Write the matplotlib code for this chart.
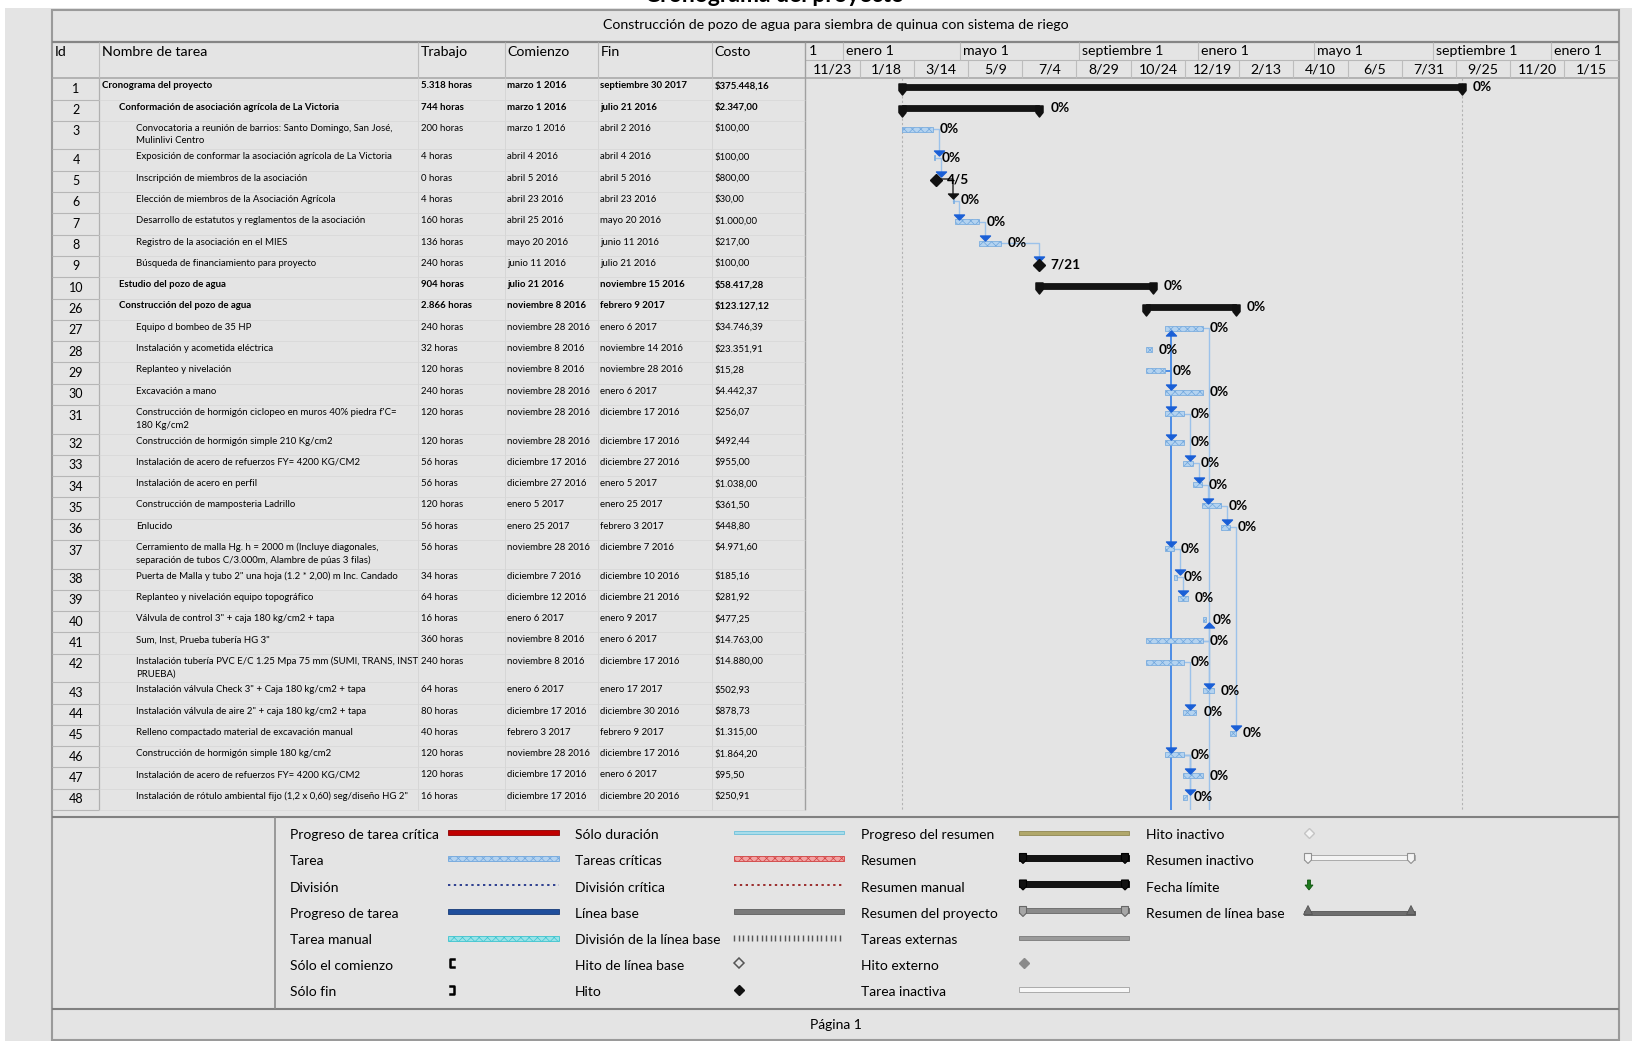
import datetime as dt

import matplotlib
matplotlib.use('Agg')
import matplotlib.pyplot as plt
import matplotlib.dates as mdates
import numpy as np
from matplotlib import font_manager
from matplotlib.patches import Rectangle, Polygon
from matplotlib.path import Path

# ---------------- datos ----------------
ids = [1, 2, 3, 4, 5, 6, 7, 8, 9, 10, 26, 27, 28, 29, 30, 31, 32, 33, 34, 35, 36,
       37, 38, 39, 40, 41, 42, 43, 44, 45, 46, 47, 48]
nombres = [
    "Cronograma del proyecto",
    "Conformación de asociación agrícola de La Victoria",
    "Convocatoria a reunión de barrios: Santo Domingo, San José,\nMulinlivi Centro",
    "Exposición de conformar la asociación agrícola de La Victoria",
    "Inscripción de miembros de la asociación",
    "Elección de miembros de la Asociación Agrícola",
    "Desarrollo de estatutos y reglamentos de la asociación",
    "Registro de la asociación en el MIES",
    "Búsqueda de financiamiento para proyecto",
    "Estudio del pozo de agua",
    "Construcción del pozo de agua",
    "Equipo d bombeo de 35 HP",
    "Instalación y acometida eléctrica",
    "Replanteo y nivelación",
    "Excavación a mano",
    "Construcción de hormigón ciclopeo en muros 40% piedra f'C=\n180 Kg/cm2",
    "Construcción de hormigón simple 210 Kg/cm2",
    "Instalación de acero de refuerzos FY= 4200 KG/CM2",
    "Instalación de acero en perfil",
    "Construcción de mamposteria Ladrillo",
    "Enlucido",
    "Cerramiento de malla Hg. h = 2000 m (Incluye diagonales,\nseparación de tubos C/3.000m, Alambre de púas 3 filas)",
    "Puerta de Malla y tubo 2\" una hoja (1.2 * 2,00) m Inc. Candado",
    "Replanteo y nivelación equipo topográfico",
    "Válvula de control 3\" + caja 180 kg/cm2 + tapa",
    "Sum, Inst, Prueba tubería HG 3\"",
    "Instalación tubería PVC E/C 1.25 Mpa 75 mm (SUMI, TRANS, INST\nPRUEBA)",
    "Instalación válvula Check 3\" + Caja 180 kg/cm2 + tapa",
    "Instalación válvula de aire 2\" + caja 180 kg/cm2 + tapa",
    "Relleno compactado material de excavación manual",
    "Construcción de hormigón simple 180 kg/cm2",
    "Instalación de acero de refuerzos FY= 4200 KG/CM2",
    "Instalación de rótulo ambiental fijo (1,2 x 0,60) seg/diseño HG 2\"",
]
niveles = [0, 1, 2, 2, 2, 2, 2, 2, 2, 1, 1] + [2] * 22
trabajo = ["5.318 horas", "744 horas", "200 horas", "4 horas", "0 horas", "4 horas",
           "160 horas", "136 horas", "240 horas", "904 horas", "2.866 horas",
           "240 horas", "32 horas", "120 horas", "240 horas", "120 horas", "120 horas",
           "56 horas", "56 horas", "120 horas", "56 horas", "56 horas", "34 horas",
           "64 horas", "16 horas", "360 horas", "240 horas", "64 horas", "80 horas",
           "40 horas", "120 horas", "120 horas", "16 horas"]
comienzo = ["marzo 1 2016", "marzo 1 2016", "marzo 1 2016", "abril 4 2016", "abril 5 2016",
            "abril 23 2016", "abril 25 2016", "mayo 20 2016", "junio 11 2016",
            "julio 21 2016", "noviembre 8 2016", "noviembre 28 2016", "noviembre 8 2016",
            "noviembre 8 2016", "noviembre 28 2016", "noviembre 28 2016",
            "noviembre 28 2016", "diciembre 17 2016", "diciembre 27 2016", "enero 5 2017",
            "enero 25 2017", "noviembre 28 2016", "diciembre 7 2016", "diciembre 12 2016",
            "enero 6 2017", "noviembre 8 2016", "noviembre 8 2016", "enero 6 2017",
            "diciembre 17 2016", "febrero 3 2017", "noviembre 28 2016",
            "diciembre 17 2016", "diciembre 17 2016"]
fin = ["septiembre 30 2017", "julio 21 2016", "abril 2 2016", "abril 4 2016", "abril 5 2016",
       "abril 23 2016", "mayo 20 2016", "junio 11 2016", "julio 21 2016",
       "noviembre 15 2016", "febrero 9 2017", "enero 6 2017", "noviembre 14 2016",
       "noviembre 28 2016", "enero 6 2017", "diciembre 17 2016", "diciembre 17 2016",
       "diciembre 27 2016", "enero 5 2017", "enero 25 2017", "febrero 3 2017",
       "diciembre 7 2016", "diciembre 10 2016", "diciembre 21 2016", "enero 9 2017",
       "enero 6 2017", "diciembre 17 2016", "enero 17 2017", "diciembre 30 2016",
       "febrero 9 2017", "diciembre 17 2016", "enero 6 2017", "diciembre 20 2016"]
costo = ["$375.448,16", "$2.347,00", "$100,00", "$100,00", "$800,00", "$30,00",
         "$1.000,00", "$217,00", "$100,00", "$58.417,28", "$123.127,12", "$34.746,39",
         "$23.351,91", "$15,28", "$4.442,37", "$256,07", "$492,44", "$955,00",
         "$1.038,00", "$361,50", "$448,80", "$4.971,60", "$185,16", "$281,92",
         "$477,25", "$14.763,00", "$14.880,00", "$502,93", "$878,73", "$1.315,00",
         "$1.864,20", "$95,50", "$250,91"]
tipos = ["resumen", "resumen", "tarea", "tarea", "hito", "tarea", "tarea", "tarea", "hito",
         "resumen", "resumen"] + ["tarea"] * 22
avance = ["0%"] * 33

# vinculos (predecesora, sucesora)
vinculos = [(3, 4), (4, 5), (5, 6), (6, 7), (7, 8), (8, 9),
            (29, 27), (29, 30), (29, 31), (29, 32), (29, 37), (29, 46),
            (31, 33), (33, 34), (34, 35), (35, 36), (36, 45), (37, 38), (38, 39),
            (41, 40), (41, 43), (42, 44), (46, 47), (46, 48)]
# vinculos que siguen hacia tareas fuera de la pagina
vinculos_fuera = [29, 27, 46]

escala_meses = ["2015-09-01", "2016-01-01", "2016-05-01", "2016-09-01", "2017-01-01",
                "2017-05-01", "2017-09-01", "2018-01-01"]
etiquetas_meses = ["1", "enero 1", "mayo 1", "septiembre 1", "enero 1", "mayo 1",
                   "septiembre 1", "enero 1"]
escala_semanas = ["2015-11-23", "2016-01-18", "2016-03-14", "2016-05-09", "2016-07-04",
                  "2016-08-29", "2016-10-24", "2016-12-19", "2017-02-13", "2017-04-10",
                  "2017-06-05", "2017-07-31", "2017-09-25", "2017-11-20", "2018-01-15"]

leyenda = [
    ["Progreso de tarea crítica", "Tarea", "División", "Progreso de tarea", "Tarea manual",
     "Sólo el comienzo", "Sólo fin"],
    ["Sólo duración", "Tareas críticas", "División crítica", "Línea base",
     "División de la línea base", "Hito de línea base", "Hito"],
    ["Progreso del resumen", "Resumen", "Resumen manual", "Resumen del proyecto",
     "Tareas externas", "Hito externo", "Tarea inactiva"],
    ["Hito inactivo", "Resumen inactivo", "Fecha límite", "Resumen de línea base"],
]

MESES = {'enero': 1, 'febrero': 2, 'marzo': 3, 'abril': 4, 'mayo': 5, 'junio': 6,
         'julio': 7, 'agosto': 8, 'septiembre': 9, 'octubre': 10, 'noviembre': 11,
         'diciembre': 12}


def fecha(texto):
    mes, dia, anio = texto.split()
    return dt.date(int(anio), MESES[mes], int(dia))


# ---------------- estilo ----------------
disponibles = {f.name for f in font_manager.fontManager.ttflist}
FUENTE = next(f for f in ['Lato', 'Open Sans', 'DejaVu Sans'] if f in disponibles)
plt.rcParams['font.family'] = [FUENTE, 'DejaVu Sans']
plt.rcParams['hatch.linewidth'] = 0.5

W, H = 1649, 1041
X_COL = [52.3, 99.4, 418.4, 504.7, 597.8, 712.3, 805.4]
X_FIN = 1619.5
Y_CAJA, Y_TIT, Y_NIVEL, Y_CAB = 10, 42, 60, 78.3
Y_CUERPO, Y_LEY, Y_PIE, Y_BASE = 810, 816.7, 1009, 1040
PX_DIA = 0.9682
FONDO = '#e4e4e4'
LINEA = '#9a9a9a'
T_TABLA = 6.95
T_CAB = 10.2
T_LEY = 10.0

fig = plt.figure(figsize=(W / 100, H / 100), dpi=100, facecolor='white')
pg = fig.add_axes([0, 0, 1, 1])
pg.set_xlim(0, W)
pg.set_ylim(H, 0)
pg.axis('off')

pg.add_patch(Rectangle((5, 8), 1627, H - 8, fc=FONDO, ec='none', zorder=0))
# titulo de la pagina, cortado por el borde superior como en la impresion
pg.text(645, 2.5, "Cronograma del proyecto", fontsize=16.5, fontweight='bold',
        ha='left', va='baseline', color='black')

# marco y lineas
pg.add_patch(Rectangle((X_COL[0], Y_CAJA), X_FIN - X_COL[0], Y_BASE - Y_CAJA,
                       fill=False, ec=LINEA, lw=1.5))
pg.hlines([Y_TIT], X_COL[0], X_FIN, colors='#858585', lw=1.6)
pg.hlines([Y_CAB], X_COL[0], X_FIN, colors='#a5a5a5', lw=1.1)
pg.hlines([Y_NIVEL], X_COL[-1], X_FIN, colors='#b8b8b8', lw=0.8)
pg.hlines([Y_LEY, Y_PIE], X_COL[0], X_FIN, colors='#808080', lw=1.5)
pg.vlines([274.7], Y_LEY, Y_PIE, colors='#8c8c8c', lw=1.2)
pg.vlines(X_COL[1:-1], Y_TIT, Y_CAB, colors='#bdbdbd', lw=0.8)
pg.vlines(X_COL[2:-1], Y_CAB, Y_CUERPO, colors='#d4d4d4', lw=0.6)
pg.vlines([X_COL[1]], Y_CAB, Y_CUERPO, colors='#b0b0b0', lw=0.9)
pg.vlines([X_COL[-1]], Y_TIT, Y_CUERPO, colors='#a0a0a0', lw=1.0)

pg.text((X_COL[0] + X_FIN) / 2, 25,
        "Construcción de pozo de agua para siembra de quinua con sistema de riego",
        fontsize=T_CAB, ha='center', va='center')
cabeceras = ["Id", "Nombre de tarea", "Trabajo", "Comienzo", "Fin", "Costo"]
for xc, cab in zip(X_COL[:-1], cabeceras):
    pg.text(xc + 2.5, 52, cab, fontsize=T_CAB, ha='left', va='center')
pg.text(836, 1025, "Página 1", fontsize=T_LEY, ha='center', va='center')

# filas de la tabla
altos = [28.5 if '\n' in n else 21.3 for n in nombres]
topes = np.concatenate([[Y_CAB], Y_CAB + np.cumsum(altos)])
for k in range(len(ids)):
    t = topes[k]
    pg.hlines([topes[k + 1]], X_COL[0], X_COL[1], colors='#b6b6b6', lw=0.8)
    pg.hlines([topes[k + 1]], X_COL[1], X_COL[-1], colors='#d6d6d6', lw=0.5)
    peso = 'bold' if tipos[k] == 'resumen' else 'normal'
    pg.text(76, t + 10.5, str(ids[k]), fontsize=9, ha='center', va='center')
    for j, linea in enumerate(nombres[k].split('\n')):
        pg.text(102 + 17 * niveles[k], t + 7.5 + 12.5 * j, linea, fontsize=T_TABLA,
                fontweight=peso, ha='left', va='center')
    for xc, val in zip(X_COL[2:6], [trabajo[k], comienzo[k], fin[k], costo[k]]):
        pg.text(xc + 2.5, t + 7.5, val, fontsize=T_TABLA, fontweight=peso,
                ha='left', va='center')

# ---------------- diagrama de gantt ----------------
ax = fig.add_axes([X_COL[-1] / W, 1 - Y_CUERPO / H, (X_FIN - X_COL[-1]) / W,
                   (Y_CUERPO - Y_TIT) / H])
ax.set_ylim(Y_CUERPO, Y_TIT)
d0 = mdates.date2num(dt.date.fromisoformat(escala_semanas[0]))
ax.set_xlim(d0, d0 + (X_FIN - X_COL[-1]) / PX_DIA)
ax.axis('off')
ax.patch.set_visible(False)
x_izq, x_der = ax.get_xlim()


def px(n):
    return n / PX_DIA


# escala de tiempo
for d, lab in zip(escala_meses, etiquetas_meses):
    x = mdates.date2num(dt.date.fromisoformat(d))
    if x > x_izq:
        ax.vlines([x], Y_TIT, Y_NIVEL, colors='#bdbdbd', lw=0.8)
    ax.text(max(x, x_izq) + px(3), 51, lab, fontsize=T_CAB, ha='left', va='center',
            clip_on=True)
xs_sem = [mdates.date2num(dt.date.fromisoformat(d)) for d in escala_semanas]
paso = xs_sem[1] - xs_sem[0]
ax.vlines(xs_sem[1:] + [xs_sem[-1] + paso], Y_NIVEL, Y_CAB, colors='#bdbdbd', lw=0.8)
for d, x in zip(escala_semanas, xs_sem):
    f = dt.date.fromisoformat(d)
    ax.text(x + paso / 2, 69.5, f"{f.month}/{f.day}", fontsize=T_CAB, ha='center',
            va='center')

inicio = [mdates.date2num(fecha(c)) + 8 / 24 for c in comienzo]
final = [mdates.date2num(fecha(c)) + 17 / 24 for c in fin]
y_barra = [t + 8.5 for t in topes[:-1]]

ax.vlines([inicio[0], final[0]], Y_CAB, Y_CUERPO, colors='#b2b2b2', lw=0.8,
          linestyles=(0, (2, 2)))

tapa = Path([(-0.32, 0.5), (0.32, 0.5), (0.32, -0.1), (0, -0.5), (-0.32, -0.1), (-0.32, 0.5)],
            [Path.MOVETO] + [Path.LINETO] * 4 + [Path.CLOSEPOLY])
flecha_abajo = Path([(-1, 0.5), (1, 0.5), (0, -0.5), (-1, 0.5)],
                    [Path.MOVETO, Path.LINETO, Path.LINETO, Path.CLOSEPOLY])
flecha_arriba = Path([(-1, -0.5), (1, -0.5), (0, 0.5), (-1, -0.5)],
                     [Path.MOVETO, Path.LINETO, Path.LINETO, Path.CLOSEPOLY])


def punto_inicio(k):
    return inicio[k] if tipos[k] != 'hito' else final[k]


# vinculos
n_suc = {p: sum(1 for a, _ in vinculos if a == p) for p, _ in vinculos}
for p, s in vinculos:
    kp, ks = ids.index(p), ids.index(s)
    xe, yp = final[kp], y_barra[kp]
    xs, ys = punto_inicio(ks), y_barra[ks]
    lx = max(xs, xe + px(6))
    if tipos[kp] == 'hito':
        col, ancho, punta = '#333333', 1.1, '#111111'
    elif n_suc[p] > 2:
        col, ancho, punta = '#4f8ee6', 1.4, '#1a5fd6'
    else:
        col, ancho, punta = '#9cc2ea', 1.0, '#1a5fd6'
    if ys > yp:
        ax.plot([xe, lx, lx], [yp, yp, ys - 7], color=col, lw=ancho, zorder=2)
        ax.plot(lx, ys - 5, marker=flecha_abajo, ms=7.2, color=punta, ls='none', zorder=4)
    else:
        ax.plot([xe, lx, lx], [yp, yp, ys + 7], color=col, lw=ancho, zorder=2)
        ax.plot(lx, ys + 5, marker=flecha_arriba, ms=7.2, color=punta, ls='none', zorder=4)
for p in vinculos_fuera:
    kp = ids.index(p)
    xe, yp = final[kp], y_barra[kp]
    fuerte = n_suc.get(p, 0) > 2
    ax.plot([xe, xe + px(6), xe + px(6)], [yp, yp, Y_CUERPO],
            color='#4f8ee6' if fuerte else '#9cc2ea', lw=1.4 if fuerte else 1.0, zorder=2)

# barras
for k in range(len(ids)):
    yb = y_barra[k]
    if tipos[k] == 'resumen':
        ax.barh(yb, final[k] - inicio[k], left=inicio[k], height=6, color='#141414',
                edgecolor='#000000', lw=0.5, zorder=3)
        ax.plot([inicio[k], final[k]], [yb + 2.5, yb + 2.5], marker=tapa, ms=8,
                color='#111111', ls='none', zorder=4)
        ax.text(final[k] + px(11), yb, avance[k], fontsize=9.8, fontweight='bold',
                ha='left', va='center', zorder=5)
    elif tipos[k] == 'hito':
        ax.plot(final[k], yb + 1, marker='D', ms=6.5, color='#111111', zorder=5)
        f = fecha(fin[k])
        ax.text(final[k] + px(11), yb, f"{f.month}/{f.day}", fontsize=9.8,
                fontweight='bold', ha='left', va='center', zorder=5)
    else:
        ax.barh(yb, max(final[k] - inicio[k], 1.0), left=inicio[k], height=5,
                color='#b4d3f0', edgecolor='#6fa6dd', hatch='xxxx', lw=0.5, zorder=3)
        ax.text(final[k] + px(7), yb, avance[k], fontsize=9.8, fontweight='bold',
                ha='left', va='center', zorder=5)

# ---------------- leyenda ----------------
X_LAB = [290, 574.7, 861, 1146]
X_SIM = [(448, 559), (734, 844), (1019, 1129), (1304, 1415)]
Y_LEG = [835, 861, 887.5, 914, 940.5, 965.7, 992.3]


def barra(x0, x1, y, h, fc, ec=None, hatch=None, lw=0.6):
    pg.add_patch(Rectangle((x0, y - h / 2), x1 - x0, h, fc=fc, ec=ec or fc,
                           hatch=hatch, lw=lw))


def tapas(xs, y, fc, ec):
    for xc in xs:
        pg.add_patch(Polygon([(xc - 3.5, y - 3), (xc + 3.5, y - 3), (xc + 3.5, y + 3.5),
                              (xc, y + 7), (xc - 3.5, y + 3.5)], closed=True,
                             fc=fc, ec=ec, lw=0.8))


def simbolo(nombre, x0, x1, y):
    if nombre == "Progreso de tarea crítica":
        barra(x0, x1, y, 5, '#c00000', '#8b0000')
    elif nombre == "Tarea":
        barra(x0, x1, y, 5, '#b4d3f0', '#6fa6dd', hatch='xxxx')
    elif nombre == "División":
        pg.plot([x0, x1], [y, y], ls=(0, (1.2, 1.8)), color='#2c3e8f', lw=1.4)
    elif nombre == "Progreso de tarea":
        barra(x0, x1, y, 5, '#1f4e9c', '#163a78')
    elif nombre == "Tarea manual":
        barra(x0, x1, y, 5, '#9ae3e8', '#3cc4cf', hatch='xxxx')
    elif nombre == "Sólo el comienzo":
        pg.plot([x0 + 6, x0 + 2, x0 + 2, x0 + 6], [y - 4, y - 4, y + 4, y + 4],
                color='black', lw=1.8)
    elif nombre == "Sólo fin":
        pg.plot([x0 + 2, x0 + 6, x0 + 6, x0 + 2], [y - 4, y - 4, y + 4, y + 4],
                color='black', lw=1.8)
    elif nombre == "Sólo duración":
        barra(x0, x1, y, 3.5, '#a8dcea', '#6cc0da')
    elif nombre == "Tareas críticas":
        barra(x0, x1, y, 5, '#f2a3a3', '#d04040', hatch='xxxx')
    elif nombre == "División crítica":
        pg.plot([x0, x1], [y, y], ls=(0, (1.2, 1.8)), color='#9b2c2c', lw=1.4)
    elif nombre == "Línea base":
        barra(x0, x1, y, 4.5, '#7a7a7a', '#5e5e5e')
    elif nombre == "División de la línea base":
        marcas = np.arange(x0, x1, 4.6)
        pg.plot(marcas, [y] * len(marcas), marker='|', ms=4, mew=1.0, color='#555555',
                ls='none')
    elif nombre == "Hito de línea base":
        pg.plot(x0 + 5, y, marker='D', ms=5, mfc='none', mec='#555555', mew=1.1)
    elif nombre == "Hito":
        pg.plot(x0 + 5, y, marker='D', ms=5.5, color='#111111')
    elif nombre == "Progreso del resumen":
        barra(x0, x1, y, 4, '#b0a76a', '#8f8650')
    elif nombre in ("Resumen", "Resumen manual"):
        barra(x0, x1, y - 1, 6, '#141414', '#000000')
        tapas([x0 + 4, x1 - 4], y - 2, '#111111', '#000000')
    elif nombre == "Resumen del proyecto":
        barra(x0, x1, y - 1, 5, '#8a8a8a', '#666666')
        tapas([x0 + 4, x1 - 4], y - 2, '#a6a6a6', '#666666')
    elif nombre == "Tareas externas":
        barra(x0, x1, y, 4.5, '#9a9a9a', '#7a7a7a')
    elif nombre == "Hito externo":
        pg.plot(x0 + 5, y, marker='D', ms=5.5, color='#8a8a8a')
    elif nombre == "Tarea inactiva":
        barra(x0, x1, y, 5, '#f7f7f7', '#a0a0a0')
    elif nombre == "Hito inactivo":
        pg.plot(x0 + 5, y, marker='D', ms=5, mfc='#f4f4f4', mec='#c4c4c4', mew=1.0)
    elif nombre == "Resumen inactivo":
        barra(x0, x1, y - 1, 5, '#f4f4f4', '#a0a0a0')
        tapas([x0 + 4, x1 - 4], y - 2, '#f4f4f4', '#909090')
    elif nombre == "Fecha límite":
        pg.add_patch(Polygon([(x0 + 3.5, y - 5), (x0 + 6.5, y - 5), (x0 + 6.5, y),
                              (x0 + 9, y), (x0 + 5, y + 5), (x0 + 1, y), (x0 + 3.5, y)],
                             closed=True, fc='#1e7a1e', ec='#115511', lw=0.6))
    elif nombre == "Resumen de línea base":
        barra(x0, x1, y + 1, 4, '#6e6e6e', '#555555')
        for xc in (x0 + 4, x1 - 4):
            pg.add_patch(Polygon([(xc - 4.5, y + 3), (xc + 4.5, y + 3), (xc, y - 6)],
                                 closed=True, fc='#6e6e6e', ec='#555555', lw=0.6))


for c, columna in enumerate(leyenda):
    for r, nombre in enumerate(columna):
        pg.text(X_LAB[c], Y_LEG[r], nombre, fontsize=T_LEY, ha='left', va='center')
        simbolo(nombre, X_SIM[c][0], X_SIM[c][1], Y_LEG[r] - 2.5)

fig.savefig('out.png', dpi=100, facecolor='white')
